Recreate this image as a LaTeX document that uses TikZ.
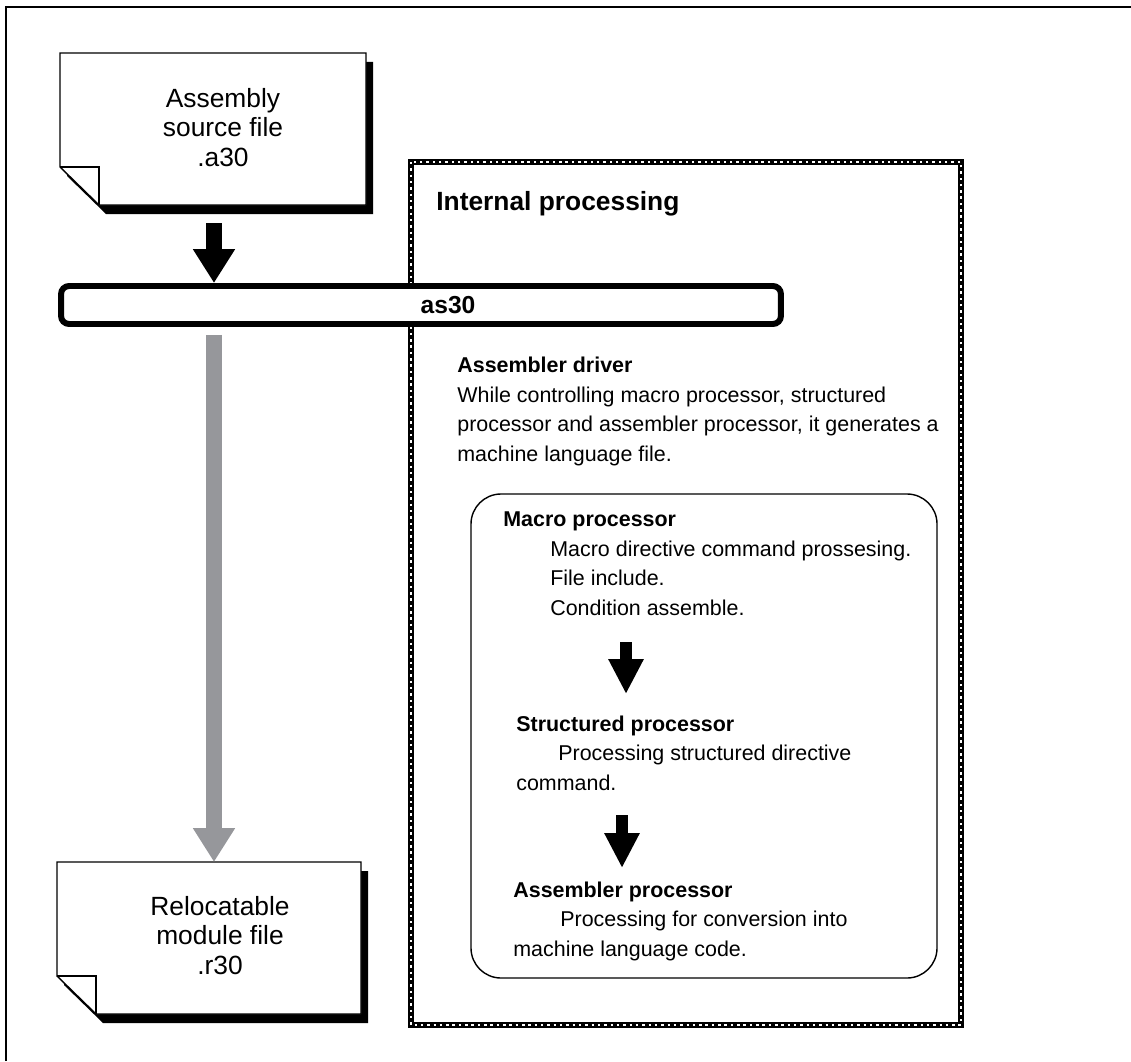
\documentclass[tikz,border=0pt]{standalone}
\usepackage{fontspec}
\setmainfont{Liberation Sans}
\usetikzlibrary{arrows.meta}
\usetikzlibrary{positioning}
\definecolor{arrowgray}{RGB}{150,151,155}

\begin{document}
\begin{tikzpicture}[x=0.02cm, y=-0.02cm,
  every node/.style={inner sep=0pt, font=\fontsize{12.2}{16.7}\selectfont},
  bigarrow/.style={line width=9.1pt, -{Triangle[width=22.7pt, length=19.3pt]}},
  smallarrow/.style={line width=6.8pt, -{Triangle[width=18.7pt, length=19.8pt]}}]
  \useasboundingbox (0, 0) rectangle (1131, 1061);

  % 外框 (只有上边和左边)
  \draw[line width=1.1pt] (6, 1061) -- (6, 7) -- (1131, 7);

  % 内部处理虚线框
  \draw[line width=3.8pt] (411, 162) rectangle (961, 1025);
  \draw[white, line width=1.5pt, dash pattern=on 1.4pt off 2.2pt] (411, 162) rectangle (961, 1025);
  \node[font=\bfseries\fontsize{15}{18}\selectfont, anchor=base west] (inttitle) at (436, 210) {Internal processing};

  % 源文件 (带阴影, 折角)
  \fill (67, 62) -- (373, 62) -- (373, 214) -- (106, 214) -- (67, 176) -- cycle;
  \filldraw[fill=white, line width=0.8pt] (60, 53) -- (366, 53) -- (366, 205) -- (99, 205) -- (60, 167) -- cycle;
  \draw[line width=0.8pt] (60, 167) -- (99, 167) -- (99, 205);
  \node[font=\fontsize{15}{16.7}\selectfont, align=center, anchor=base] (srcfile) at (223, 166) {Assembly\\source file\\.a30};

  % 目标文件
  \fill (64, 871) -- (368, 871) -- (368, 1023) -- (103, 1023) -- (64, 985) -- cycle;
  \filldraw[fill=white, line width=0.8pt] (57, 862) -- (361, 862) -- (361, 1014) -- (96, 1014) -- (57, 976) -- cycle;
  \draw[line width=0.8pt] (57, 976) -- (96, 976) -- (96, 1014);
  \node[font=\fontsize{15}{16.7}\selectfont, align=center, anchor=base] (relfile) at (220, 974) {Relocatable\\module file\\.r30};

  % as30 条
  \node[draw, fill=white, line width=3.4pt, rounded corners=0.16cm, minimum width=14.4cm, minimum height=0.76cm] (as30bar) at (421, 305) {};
  \node[font=\bfseries\fontsize{14}{16}\selectfont] (as30) at (448, 305) {as30};

  % 粗箭头
  \coordinate (srcout) at (214, 223);
  \coordinate (relin) at (214, 862);
  \draw[bigarrow] (srcout) -- (as30bar.north -| srcout);
  \draw[bigarrow, arrowgray] ([yshift=-0.16cm]as30bar.south -| relin) -- (relin);

  % 汇编驱动说明
  \node[align=left, anchor=base west] (driver) at (457, 461)
    {\textbf{Assembler driver}\\While controlling macro processor, structured\\processor and assembler processor, it generates a\\machine language file.};

  % 圆角框
  \draw[line width=0.8pt, rounded corners=0.6cm] (471, 494) rectangle (937, 978);

  \node[align=left, anchor=base west] (macro) at (503, 615)
    {\textbf{Macro processor}\\\hspace*{0.94cm}Macro directive command prossesing.\\\hspace*{0.94cm}File include.\\\hspace*{0.94cm}Condition assemble.};
  \node[align=left, anchor=base west] (struct) at (516, 790)
    {\textbf{Structured processor}\\\hspace*{0.84cm}Processing structured directive\\command.};
  \node[align=left, anchor=base west] (asmproc) at (513, 956)
    {\textbf{Assembler processor}\\\hspace*{0.94cm}Processing for conversion into\\machine language code.};

  % 小箭头
  \coordinate (macroout) at (626, 642);
  \coordinate (structin) at (626, 694);
  \coordinate (structout) at (622, 815);
  \coordinate (asmin) at (622, 868);
  \draw[smallarrow] (macroout) -- (structin);
  \draw[smallarrow] (structout) -- (asmin);
\end{tikzpicture}
\end{document}
